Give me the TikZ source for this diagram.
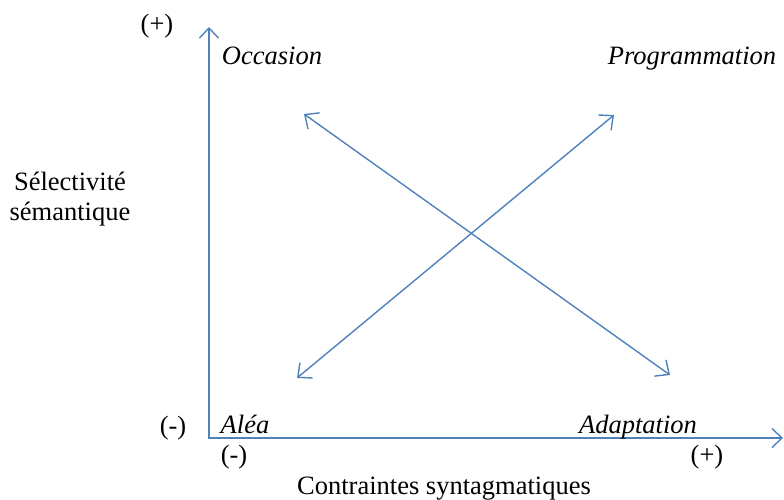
\documentclass[tikz,border=0pt]{standalone}
\usepackage{fontspec}
\setmainfont{Liberation Serif}
\usetikzlibrary{arrows.meta}
\definecolor{axisblue}{RGB}{79,129,189}
\begin{document}
\begin{tikzpicture}[x=1pt,y=-1pt,
  axis/.style={draw=axisblue,line width=1.4pt,-{Straight Barb[length=10pt,width=19pt,line width=1.4pt]}},
  diag/.style={draw=axisblue,line width=1.4pt,{Straight Barb[length=11pt,width=20pt,line width=1.4pt]}-{Straight Barb[length=11pt,width=20pt,line width=1.4pt]}},
  lab/.style={font=\fontsize{26.5}{30}\selectfont,inner sep=0pt},
  ital/.style={font=\fontsize{26.5}{30}\selectfont\itshape,inner sep=0pt}]
\useasboundingbox (0,0) rectangle (784,499);
\coordinate (O) at (209,438);
\coordinate (Ytop) at (209,27);
\coordinate (Xend) at (783,438);
\coordinate (A1) at (297,378);
\coordinate (A2) at (614,115);
\coordinate (B1) at (304,114);
\coordinate (B2) at (670,375);
\draw[axis] (O) -- (Ytop);
\draw[axis] ([xshift=-0.7pt]O) -- (Xend);
\draw[diag] (A1) -- (A2);
\draw[diag] (B1) -- (B2);
\node[lab] (yp) at (157,26) {(+)};
\node[lab] (ym) at (173,428) {(-)};
\node[lab] (xm) at (234,457) {(-)};
\node[lab] (xp) at (707,457) {(+)};
\node[ital,anchor=base] (occ) at (272,64) {Occasion};
\node[ital,anchor=base] (prog) at (692,64) {Programmation};
\node[ital,anchor=base] (alea) at (245,433) {Aléa};
\node[ital,anchor=base] (adap) at (638,433) {Adaptation};
\node[lab,anchor=base] (sel) at (70,190) {Sélectivité};
\node[lab,anchor=base] (sem) at (70,220) {sémantique};
\node[lab,anchor=base] (cont) at (444,494) {Contraintes syntagmatiques};
\end{tikzpicture}
\end{document}
